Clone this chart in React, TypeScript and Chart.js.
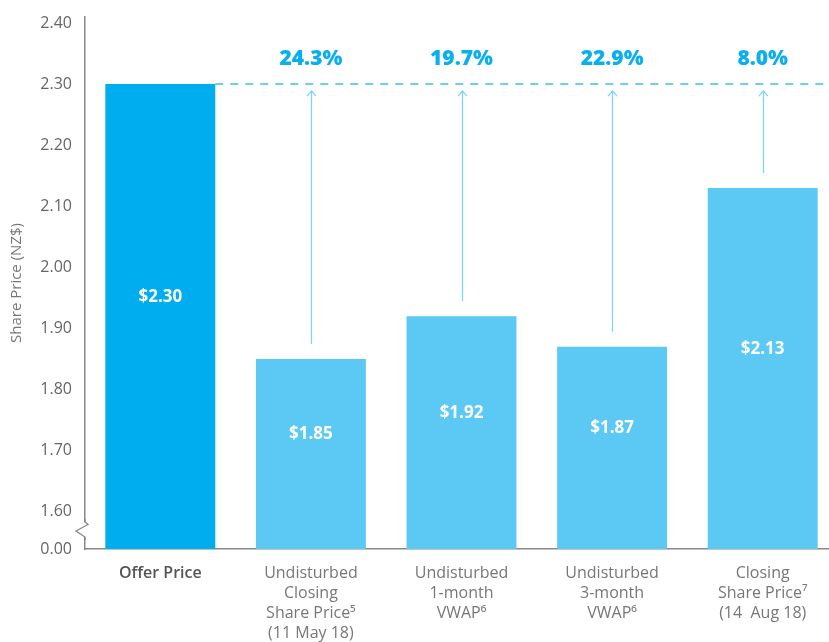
import React, { useEffect, useRef } from "react";
import { Chart, registerables } from "chart.js";
Chart.register(...registerables);

const categories: string[][] = [
  ["Offer Price"],
  ["Undisturbed", "Closing", "Share Price⁵", "(11 May 18)"],
  ["Undisturbed", "1-month", "VWAP⁶"],
  ["Undisturbed", "3-month", "VWAP⁶"],
  ["Closing", "Share Price⁷", "(14  Aug 18)"],
];
const prices = [2.3, 1.85, 1.92, 1.87, 2.13];
const priceLabels = ["$2.30", "$1.85", "$1.92", "$1.87", "$2.13"];
const premiums = ["", "24.3%", "19.7%", "22.9%", "8.0%"];
const yTickValues = [1.6, 1.7, 1.8, 1.9, 2.0, 2.1, 2.2, 2.3, 2.4];
const breakLabel = "0.00";
const yMin = 1.539;
const yMax = 2.4098;

const barColors = ["#00ADEE", "#5BC9F4", "#5BC9F4", "#5BC9F4", "#5BC9F4"];
const FONT = "'Open Sans', Lato, sans-serif";

const overlay = {
  id: "overlay",
  afterDatasetsDraw(chart: any) {
    const ctx = chart.ctx;
    const y = chart.scales.y;
    const area = chart.chartArea;
    const meta = chart.getDatasetMeta(0);
    const dashY = y.getPixelForValue(prices[0]);
    const base16 = y.getPixelForValue(1.6);
    ctx.save();
    const b0 = meta.data[0];
    ctx.strokeStyle = "#3DBDF2";
    ctx.lineWidth = 1.5;
    ctx.setLineDash([8, 7]);
    ctx.beginPath();
    ctx.moveTo(b0.x + b0.width / 2, dashY);
    ctx.lineTo(chart.width, dashY);
    ctx.stroke();
    ctx.setLineDash([]);
    for (let i = 1; i < prices.length; i++) {
      const b = meta.data[i];
      const x = Math.round(b.x) + 0.5;
      const top = dashY + 7;
      ctx.strokeStyle = "#7FD3F6";
      ctx.lineWidth = 1.3;
      ctx.beginPath();
      ctx.moveTo(x, b.y - 15);
      ctx.lineTo(x, top);
      ctx.stroke();
      ctx.beginPath();
      ctx.moveTo(x - 4.5, top + 5);
      ctx.lineTo(x, top);
      ctx.lineTo(x + 4.5, top + 5);
      ctx.stroke();
      ctx.fillStyle = "#0AAFEE";
      ctx.font = `800 21px ${FONT}`;
      ctx.textAlign = "center";
      ctx.textBaseline = "middle";
      ctx.fillText(premiums[i], b.x, dashY - 25);
    }
    for (let i = 0; i < prices.length; i++) {
      const b = meta.data[i];
      ctx.fillStyle = "#FFFFFF";
      ctx.font = `bold 17px ${FONT}`;
      ctx.textAlign = "center";
      ctx.textBaseline = "middle";
      ctx.fillText(priceLabels[i], b.x, (b.y + base16) / 2 - 1);
    }
    const ax = area.left;
    ctx.fillStyle = "#FFFFFF";
    ctx.fillRect(ax - 2, 522, 4, 15);
    ctx.strokeStyle = "#888888";
    ctx.lineWidth = 1.3;
    ctx.beginPath();
    ctx.moveTo(ax, 519);
    ctx.lineTo(ax, 522);
    ctx.lineTo(ax + 3, 524.5);
    ctx.lineTo(ax - 9, 531);
    ctx.lineTo(ax, 537);
    ctx.lineTo(ax, 540);
    ctx.stroke();
    ctx.restore();
  },
};

export default function App() {
  const ref = useRef<HTMLCanvasElement>(null);
  useEffect(() => {
    if (!ref.current) return;
    const chart = new Chart(ref.current, {
      type: "bar",
      data: {
        labels: categories,
        datasets: [
          {
            data: prices,
            backgroundColor: barColors,
            borderWidth: 0,
            categoryPercentage: 1,
            barPercentage: 0.73,
          },
        ],
      },
      options: {
        animation: false,
        responsive: false,
        maintainAspectRatio: false,
        layout: { padding: { top: 17, right: 7, left: 0, bottom: 0 } },
        plugins: { legend: { display: false }, tooltip: { enabled: false } },
        scales: {
          x: {
            grid: { display: false, drawTicks: false },
            border: { display: true, color: "#888888", width: 1.5 },
            ticks: {
              padding: 14,
              maxRotation: 0,
              autoSkip: false,
              color: (c: any) => (c.index === 0 ? "#555555" : "#777777"),
              font: (c: any) =>
                c.index === 0
                  ? { family: FONT, size: 16, weight: "600", lineHeight: 1.25 }
                  : { family: FONT, size: 16, weight: "normal", lineHeight: 1.25 },
            },
            afterFit: (s: any) => {
              s.height = 93;
              s.paddingLeft = 0;
              s.paddingRight = 0;
            },
          },
          y: {
            min: yMin,
            max: yMax,
            grid: { display: false, drawTicks: false },
            border: { display: true, color: "#888888", width: 1.5 },
            afterBuildTicks: (s: any) => {
              s.ticks = [{ value: yMin }, ...yTickValues.map((v) => ({ value: v }))];
            },
            ticks: {
              padding: 13,
              color: "#666666",
              font: { family: FONT, size: 16 },
              callback: (v: any) => (Math.abs(v - yMin) < 1e-6 ? breakLabel : Number(v).toFixed(2)),
            },
            title: {
              display: true,
              text: "Share Price (NZ$)",
              color: "#777777",
              font: { family: FONT, size: 15 },
              padding: { top: 8, bottom: 0 },
            },
            afterFit: (s: any) => {
              s.width = 85;
              s.paddingTop = 0;
              s.paddingBottom = 0;
            },
          },
        },
      },
      plugins: [overlay],
    });
    return () => chart.destroy();
  }, []);
  return (
    <div style={{ position: "absolute", left: 0, top: 0, width: 829, height: 642, overflow: "hidden", background: "#fff" }}>
      <canvas ref={ref} width={845} height={642} style={{ width: 845, height: 642, display: "block" }} />
    </div>
  );
}
